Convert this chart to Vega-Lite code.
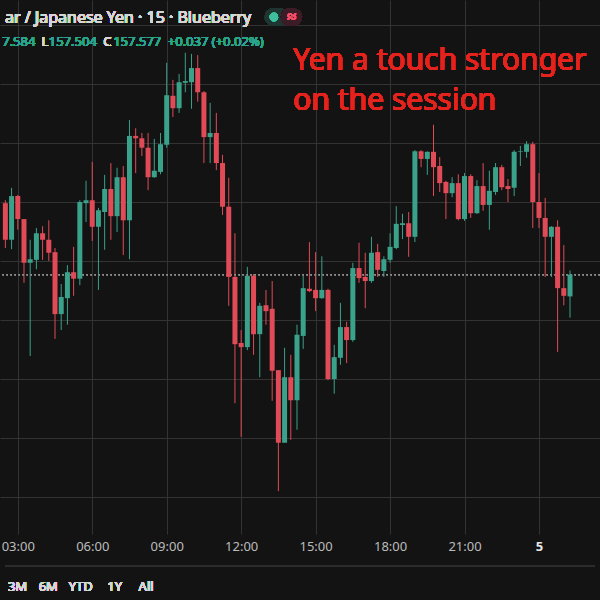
{
  "$schema": "https://vega.github.io/schema/vega-lite/v6.json",
  "width": 600,
  "height": 530,
  "autosize": {"type": "none"},
  "padding": {"left": 0, "top": 0, "right": 0, "bottom": 70},
  "background": "#131313",
  "config": {"view": {"stroke": null}, "font": "Noto Sans"},
  "datasets": {
    "candles": [
      {"t": 2.5, "o": 157.698, "h": 157.703, "l": 157.622, "c": 157.636},
      {"t": 2.75, "o": 157.636, "h": 157.724, "l": 157.620, "c": 157.710},
      {"t": 3.0, "o": 157.710, "h": 157.712, "l": 157.653, "c": 157.671},
      {"t": 3.25, "o": 157.671, "h": 157.671, "l": 157.563, "c": 157.597},
      {"t": 3.5, "o": 157.597, "h": 157.636, "l": 157.439, "c": 157.603},
      {"t": 3.75, "o": 157.602, "h": 157.656, "l": 157.586, "c": 157.647},
      {"t": 4.0, "o": 157.647, "h": 157.659, "l": 157.602, "c": 157.636},
      {"t": 4.25, "o": 157.636, "h": 157.669, "l": 157.600, "c": 157.614},
      {"t": 4.5, "o": 157.615, "h": 157.622, "l": 157.468, "c": 157.510},
      {"t": 4.75, "o": 157.510, "h": 157.561, "l": 157.483, "c": 157.539},
      {"t": 5.0, "o": 157.537, "h": 157.593, "l": 157.492, "c": 157.581},
      {"t": 5.25, "o": 157.581, "h": 157.624, "l": 157.541, "c": 157.570},
      {"t": 5.5, "o": 157.570, "h": 157.703, "l": 157.559, "c": 157.700},
      {"t": 5.75, "o": 157.698, "h": 157.736, "l": 157.666, "c": 157.703},
      {"t": 6.0, "o": 157.703, "h": 157.768, "l": 157.634, "c": 157.658},
      {"t": 6.25, "o": 157.658, "h": 157.690, "l": 157.551, "c": 157.686},
      {"t": 6.5, "o": 157.683, "h": 157.746, "l": 157.619, "c": 157.722},
      {"t": 6.75, "o": 157.722, "h": 157.766, "l": 157.636, "c": 157.676},
      {"t": 7.0, "o": 157.676, "h": 157.758, "l": 157.649, "c": 157.742},
      {"t": 7.25, "o": 157.742, "h": 157.761, "l": 157.610, "c": 157.669},
      {"t": 7.5, "o": 157.669, "h": 157.839, "l": 157.603, "c": 157.812},
      {"t": 7.75, "o": 157.812, "h": 157.825, "l": 157.749, "c": 157.808},
      {"t": 8.0, "o": 157.808, "h": 157.817, "l": 157.778, "c": 157.792},
      {"t": 8.25, "o": 157.792, "h": 157.817, "l": 157.720, "c": 157.742},
      {"t": 8.5, "o": 157.742, "h": 157.807, "l": 157.741, "c": 157.753},
      {"t": 8.75, "o": 157.751, "h": 157.817, "l": 157.747, "c": 157.798},
      {"t": 9.0, "o": 157.797, "h": 157.936, "l": 157.792, "c": 157.881},
      {"t": 9.25, "o": 157.880, "h": 157.907, "l": 157.844, "c": 157.859},
      {"t": 9.5, "o": 157.859, "h": 157.917, "l": 157.851, "c": 157.903},
      {"t": 9.75, "o": 157.902, "h": 157.953, "l": 157.886, "c": 157.905},
      {"t": 10.0, "o": 157.903, "h": 157.951, "l": 157.858, "c": 157.927},
      {"t": 10.25, "o": 157.927, "h": 157.949, "l": 157.870, "c": 157.886},
      {"t": 10.5, "o": 157.886, "h": 157.888, "l": 157.766, "c": 157.810},
      {"t": 10.75, "o": 157.810, "h": 157.868, "l": 157.766, "c": 157.817},
      {"t": 11.0, "o": 157.817, "h": 157.851, "l": 157.754, "c": 157.766},
      {"t": 11.25, "o": 157.766, "h": 157.780, "l": 157.678, "c": 157.692},
      {"t": 11.5, "o": 157.692, "h": 157.741, "l": 157.524, "c": 157.573},
      {"t": 11.75, "o": 157.573, "h": 157.647, "l": 157.359, "c": 157.459},
      {"t": 12.0, "o": 157.461, "h": 157.483, "l": 157.302, "c": 157.454},
      {"t": 12.25, "o": 157.454, "h": 157.590, "l": 157.449, "c": 157.575},
      {"t": 12.5, "o": 157.575, "h": 157.578, "l": 157.441, "c": 157.476},
      {"t": 12.75, "o": 157.476, "h": 157.529, "l": 157.403, "c": 157.524},
      {"t": 13.0, "o": 157.525, "h": 157.551, "l": 157.492, "c": 157.515},
      {"t": 13.25, "o": 157.519, "h": 157.566, "l": 157.363, "c": 157.414},
      {"t": 13.5, "o": 157.415, "h": 157.415, "l": 157.210, "c": 157.292},
      {"t": 13.75, "o": 157.292, "h": 157.453, "l": 157.292, "c": 157.403},
      {"t": 14.0, "o": 157.403, "h": 157.441, "l": 157.297, "c": 157.364},
      {"t": 14.25, "o": 157.364, "h": 157.492, "l": 157.314, "c": 157.475},
      {"t": 14.5, "o": 157.473, "h": 157.575, "l": 157.451, "c": 157.554},
      {"t": 14.75, "o": 157.553, "h": 157.632, "l": 157.547, "c": 157.549},
      {"t": 15.0, "o": 157.551, "h": 157.615, "l": 157.515, "c": 157.537},
      {"t": 15.25, "o": 157.537, "h": 157.608, "l": 157.536, "c": 157.551},
      {"t": 15.5, "o": 157.551, "h": 157.553, "l": 157.398, "c": 157.400},
      {"t": 15.75, "o": 157.400, "h": 157.458, "l": 157.375, "c": 157.437},
      {"t": 16.0, "o": 157.436, "h": 157.529, "l": 157.424, "c": 157.488},
      {"t": 16.25, "o": 157.488, "h": 157.497, "l": 157.427, "c": 157.466},
      {"t": 16.5, "o": 157.466, "h": 157.597, "l": 157.463, "c": 157.588},
      {"t": 16.75, "o": 157.588, "h": 157.631, "l": 157.563, "c": 157.571},
      {"t": 17.0, "o": 157.573, "h": 157.614, "l": 157.520, "c": 157.566},
      {"t": 17.25, "o": 157.566, "h": 157.641, "l": 157.563, "c": 157.614},
      {"t": 17.5, "o": 157.615, "h": 157.629, "l": 157.573, "c": 157.585},
      {"t": 17.75, "o": 157.583, "h": 157.608, "l": 157.573, "c": 157.603},
      {"t": 18.0, "o": 157.602, "h": 157.647, "l": 157.597, "c": 157.624},
      {"t": 18.25, "o": 157.622, "h": 157.693, "l": 157.620, "c": 157.663},
      {"t": 18.5, "o": 157.661, "h": 157.680, "l": 157.637, "c": 157.664},
      {"t": 18.75, "o": 157.664, "h": 157.683, "l": 157.607, "c": 157.641},
      {"t": 19.0, "o": 157.641, "h": 157.788, "l": 157.632, "c": 157.786},
      {"t": 19.25, "o": 157.786, "h": 157.788, "l": 157.759, "c": 157.773},
      {"t": 19.5, "o": 157.773, "h": 157.786, "l": 157.746, "c": 157.785},
      {"t": 19.75, "o": 157.785, "h": 157.831, "l": 157.710, "c": 157.759},
      {"t": 20.0, "o": 157.761, "h": 157.776, "l": 157.717, "c": 157.732},
      {"t": 20.25, "o": 157.734, "h": 157.736, "l": 157.671, "c": 157.715},
      {"t": 20.5, "o": 157.715, "h": 157.742, "l": 157.708, "c": 157.732},
      {"t": 20.75, "o": 157.732, "h": 157.747, "l": 157.669, "c": 157.671},
      {"t": 21.0, "o": 157.671, "h": 157.749, "l": 157.668, "c": 157.744},
      {"t": 21.25, "o": 157.744, "h": 157.747, "l": 157.673, "c": 157.681},
      {"t": 21.5, "o": 157.681, "h": 157.737, "l": 157.680, "c": 157.727},
      {"t": 21.75, "o": 157.727, "h": 157.766, "l": 157.685, "c": 157.695},
      {"t": 22.0, "o": 157.695, "h": 157.753, "l": 157.653, "c": 157.719},
      {"t": 22.25, "o": 157.717, "h": 157.766, "l": 157.712, "c": 157.759},
      {"t": 22.5, "o": 157.759, "h": 157.763, "l": 157.720, "c": 157.725},
      {"t": 22.75, "o": 157.727, "h": 157.739, "l": 157.700, "c": 157.722},
      {"t": 23.0, "o": 157.724, "h": 157.788, "l": 157.710, "c": 157.785},
      {"t": 23.25, "o": 157.785, "h": 157.795, "l": 157.761, "c": 157.786},
      {"t": 23.5, "o": 157.785, "h": 157.803, "l": 157.775, "c": 157.798},
      {"t": 23.75, "o": 157.798, "h": 157.802, "l": 157.656, "c": 157.700},
      {"t": 24.0, "o": 157.700, "h": 157.749, "l": 157.656, "c": 157.673},
      {"t": 24.25, "o": 157.673, "h": 157.707, "l": 157.573, "c": 157.641},
      {"t": 24.5, "o": 157.641, "h": 157.659, "l": 157.573, "c": 157.658},
      {"t": 24.75, "o": 157.658, "h": 157.669, "l": 157.446, "c": 157.554},
      {"t": 25.0, "o": 157.554, "h": 157.627, "l": 157.525, "c": 157.541},
      {"t": 25.25, "o": 157.540, "h": 157.584, "l": 157.504, "c": 157.577}
    ]
  },
  "data": {"name": "candles"},
  "layer": [
    {
      "mark": {"type": "rule", "strokeWidth": 1},
      "encoding": {
        "x": {"field": "t", "type": "quantitative",
          "scale": {"domain": [2.485, 26.257], "nice": false, "zero": false},
          "axis": {
            "values": [3, 6, 9, 12, 15, 18, 21, 24],
            "labelExpr": "datum.value >= 24 ? '5' : (datum.value < 10 ? '0' : '') + datum.value + ':00'",
            "grid": true, "gridColor": "#333333", "gridWidth": 1,
            "domain": false, "ticks": true, "tickColor": "#333333", "tickSize": 4,
            "labelColor": {"condition": {"test": "datum.value >= 24", "value": "#e6e6e6"}, "value": "#bcbcbc"},
            "labelFontWeight": {"condition": {"test": "datum.value >= 24", "value": "bold"}, "value": "normal"},
            "labelFontSize": 13, "labelFont": "Noto Sans", "labelPadding": 6,
            "labelFlush": false, "labelOverlap": false, "title": null
          }
        },
        "y": {"field": "l", "type": "quantitative",
          "scale": {"domain": [157.14407, 158.04237], "nice": false, "zero": false},
          "axis": {
            "values": [157.2, 157.3, 157.4, 157.5, 157.6, 157.7, 157.8, 157.9, 158.0],
            "grid": true, "gridColor": "#333333", "gridWidth": 1,
            "labels": false, "ticks": false, "domain": false, "title": null, "orient": "right"
          }
        },
        "y2": {"field": "h"},
        "color": {"condition": {"test": "datum.c >= datum.o", "value": "#3aa18a"}, "value": "#e04b57"}
      }
    },
    {
      "mark": {"type": "rule", "strokeDash": [1.5, 2.5], "color": "#8a8a8a", "strokeWidth": 1},
      "encoding": {
        "y": {"datum": 157.577, "type": "quantitative"}
      }
    },
    {
      "mark": {"type": "bar", "size": 5},
      "encoding": {
        "x": {"field": "t", "type": "quantitative"},
        "y": {"field": "o", "type": "quantitative"},
        "y2": {"field": "c"},
        "color": {"condition": {"test": "datum.c >= datum.o", "value": "#3aa18a"}, "value": "#e04b57"}
      }
    },
    {
      "mark": {"type": "text", "text": "Yen a touch stronger", "font": "Noto Sans", "fontSize": 30, "color": "#e3241e", "align": "left", "baseline": "alphabetic"},
      "encoding": {"x": {"datum": 14.093, "type": "quantitative"}, "y": {"datum": 157.9237, "type": "quantitative"}}
    },
    {
      "mark": {"type": "text", "text": "on the session", "font": "Noto Sans", "fontSize": 30, "color": "#e3241e", "align": "left", "baseline": "alphabetic"},
      "encoding": {"x": {"datum": 14.093, "type": "quantitative"}, "y": {"datum": 157.8559, "type": "quantitative"}}
    },
    {
      "mark": {"type": "text", "text": "ar / Japanese Yen · 15 · Blueberry", "font": "Noto Sans", "fontSize": 16, "color": "#d6d6d6", "align": "left", "baseline": "alphabetic"},
      "encoding": {"x": {"datum": 2.485, "type": "quantitative"}, "y": {"datum": 158.0034, "type": "quantitative"}}
    },
    {
      "mark": {"type": "rule", "strokeWidth": 18, "strokeCap": "round", "color": "#1f3531"},
      "encoding": {"x": {"datum": 13.3, "type": "quantitative"}, "x2": {"datum": 13.55}, "y": {"datum": 158.0136, "type": "quantitative"}}
    },
    {
      "mark": {"type": "rule", "strokeWidth": 18, "strokeCap": "round", "color": "#3c1d27"},
      "encoding": {"x": {"datum": 13.96, "type": "quantitative"}, "x2": {"datum": 14.1}, "y": {"datum": 158.0136, "type": "quantitative"}}
    },
    {
      "mark": {"type": "point", "filled": true, "size": 70, "color": "#3fbf9b", "opacity": 1},
      "encoding": {"x": {"datum": 13.32, "type": "quantitative"}, "y": {"datum": 158.0136, "type": "quantitative"}}
    },
    {
      "mark": {"type": "text", "text": "≈", "font": "Noto Sans", "fontSize": 16, "fontWeight": "bold", "color": "#f0506a", "align": "center", "baseline": "middle"},
      "encoding": {"x": {"datum": 14.03, "type": "quantitative"}, "y": {"datum": 158.0136, "type": "quantitative"}}
    },
    {
      "mark": {"type": "text", "text": "7.584", "font": "Noto Sans", "fontSize": 13, "color": "#2aa58c", "align": "left", "baseline": "alphabetic"},
      "encoding": {"x": {"datum": 2.37, "type": "quantitative"}, "y": {"datum": 157.9644, "type": "quantitative"}}
    },
    {
      "mark": {"type": "text", "text": "L", "font": "Noto Sans", "fontSize": 13, "color": "#d6d6d6", "align": "left", "baseline": "alphabetic"},
      "encoding": {"x": {"datum": 3.951, "type": "quantitative"}, "y": {"datum": 157.9644, "type": "quantitative"}}
    },
    {
      "mark": {"type": "text", "text": "157.504", "font": "Noto Sans", "fontSize": 13, "color": "#2aa58c", "align": "left", "baseline": "alphabetic"},
      "encoding": {"x": {"datum": 4.248, "type": "quantitative"}, "y": {"datum": 157.9644, "type": "quantitative"}}
    },
    {
      "mark": {"type": "text", "text": "C", "font": "Noto Sans", "fontSize": 13, "color": "#d6d6d6", "align": "left", "baseline": "alphabetic"},
      "encoding": {"x": {"datum": 6.447, "type": "quantitative"}, "y": {"datum": 157.9644, "type": "quantitative"}}
    },
    {
      "mark": {"type": "text", "text": "157.577", "font": "Noto Sans", "fontSize": 13, "color": "#2aa58c", "align": "left", "baseline": "alphabetic"},
      "encoding": {"x": {"datum": 6.843, "type": "quantitative"}, "y": {"datum": 157.9644, "type": "quantitative"}}
    },
    {
      "mark": {"type": "text", "text": "+0.037 (+0.02%)", "font": "Noto Sans", "fontSize": 13, "color": "#2aa58c", "align": "left", "baseline": "alphabetic"},
      "encoding": {"x": {"datum": 9.042, "type": "quantitative"}, "y": {"datum": 157.9644, "type": "quantitative"}}
    },
    {
      "mark": {"type": "rule", "color": "#2c2c2c", "strokeWidth": 2, "clip": false},
      "encoding": {"x": {"datum": 2.485, "type": "quantitative"}, "x2": {"datum": 26.257}, "y": {"datum": 157.0831, "type": "quantitative"}}
    },
    {
      "mark": {"type": "text", "text": "3M", "font": "Noto Sans", "fontSize": 13, "color": "#d6d6d6", "align": "center", "baseline": "middle"},
      "encoding": {"x": {"datum": 2.99, "type": "quantitative"}, "y": {"datum": 157.0475, "type": "quantitative"}}
    },
    {
      "mark": {"type": "text", "text": "6M", "font": "Noto Sans", "fontSize": 13, "color": "#d6d6d6", "align": "center", "baseline": "middle"},
      "encoding": {"x": {"datum": 4.228, "type": "quantitative"}, "y": {"datum": 157.0475, "type": "quantitative"}}
    },
    {
      "mark": {"type": "text", "text": "YTD", "font": "Noto Sans", "fontSize": 13, "color": "#d6d6d6", "align": "center", "baseline": "middle"},
      "encoding": {"x": {"datum": 5.536, "type": "quantitative"}, "y": {"datum": 157.0475, "type": "quantitative"}}
    },
    {
      "mark": {"type": "text", "text": "1Y", "font": "Noto Sans", "fontSize": 13, "color": "#d6d6d6", "align": "center", "baseline": "middle"},
      "encoding": {"x": {"datum": 6.903, "type": "quantitative"}, "y": {"datum": 157.0475, "type": "quantitative"}}
    },
    {
      "mark": {"type": "text", "text": "All", "font": "Noto Sans", "fontSize": 13, "color": "#d6d6d6", "align": "center", "baseline": "middle"},
      "encoding": {"x": {"datum": 8.17, "type": "quantitative"}, "y": {"datum": 157.0475, "type": "quantitative"}}
    }
  ]
}
